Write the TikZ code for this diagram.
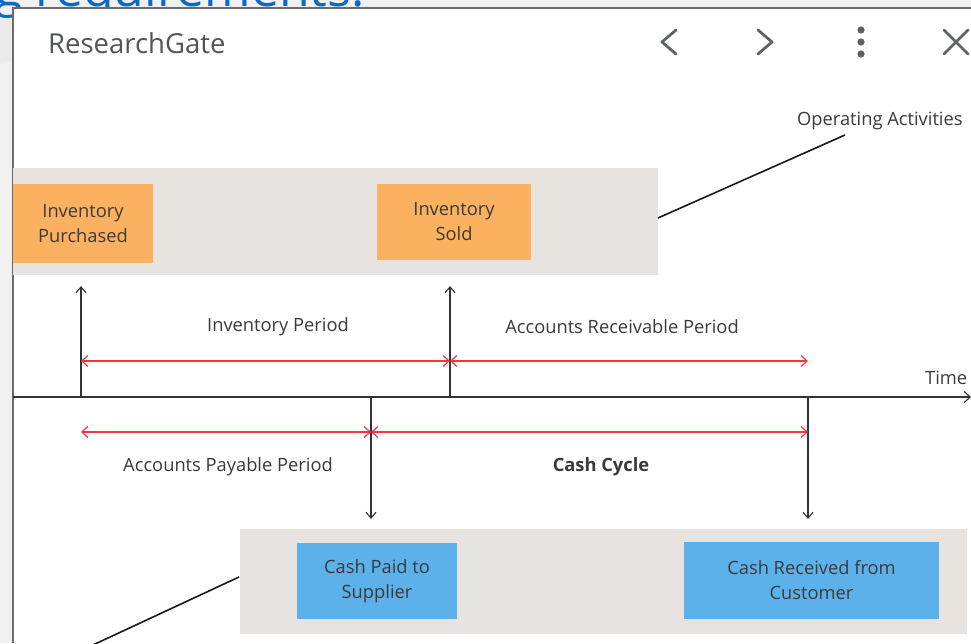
\documentclass[tikz,border=0pt]{standalone}
\usepackage{fontspec}
\setmainfont{Open Sans}
\usetikzlibrary{arrows.meta}
\definecolor{bandgray}{HTML}{E7E3E0}
\definecolor{orangebox}{HTML}{FBB160}
\definecolor{bluebox}{HTML}{5DB1EA}
\definecolor{redarrow}{HTML}{F2353F}
\definecolor{txt}{HTML}{3A3A3A}
\definecolor{linkblue}{HTML}{0B69C7}
\definecolor{icongray}{HTML}{5F6368}
\definecolor{pagegray}{HTML}{F1F1F1}
\definecolor{bordergray}{HTML}{6E6A66}
\tikzset{
  band/.style={fill=bandgray, draw=none},
  obox/.style={fill=orangebox, draw=none, inner sep=0pt, align=center, text=txt, font=\fontsize{18.3}{25}\selectfont},
  bbox/.style={fill=bluebox, draw=none, inner sep=0pt, align=center, text=txt, font=\fontsize{18.3}{25}\selectfont},
  lbl/.style={text=txt, inner sep=0pt, font=\fontsize{18.3}{22}\selectfont},
  blackarrow/.style={draw=black!80, line width=1.2pt, -{Straight Barb[length=6pt,width=10pt,line width=1.1pt]}},
  redarr/.style={draw=redarrow, line width=1.4pt, {Straight Barb[length=6pt,width=11pt,line width=1.2pt]}-{Straight Barb[length=6pt,width=11pt,line width=1.2pt]}},
  leader/.style={draw=black!90, line width=1.6pt},
  icon/.style={draw=icongray, line width=2.8pt, line cap=round, line join=round}
}
\begin{document}
\begin{tikzpicture}[x=1pt,y=-1pt]
\useasboundingbox (0,0) rectangle (971,643);
% browser background
\fill[pagegray] (0,0) rectangle (971,643);
\fill[black!8] (0,40) circle (24);
\node[anchor=base west, text=linkblue, inner sep=0pt, font=\fontsize{50}{54}\selectfont] (link) at (-5,6) {g requirements.};
\fill[white] (13,8) rectangle (971,643);
\draw[bordergray, line width=1.5pt] (13,643) -- (13,8) -- (971,8);
% header
\node[anchor=west, text=icongray!85!black, inner sep=0pt, font=\fontsize{27.5}{30}\selectfont] (rg) at (48,43) {ResearchGate};
\draw[icon] (676,30) -- (662,42) -- (676,54);
\draw[icon] (758,30) -- (772,42) -- (758,54);
\fill[icongray] (861,30) circle (3.6) (861,42) circle (3.6) (861,54) circle (3.6);
\draw[icon] (944,30) -- (968,54) (944,54) -- (968,30);
% bands
\node[band, minimum width=645pt, minimum height=107pt, inner sep=0pt] (topband) at (335.5,221.5) {};
\node[band, minimum width=727pt, minimum height=105pt, inner sep=0pt] (botband) at (603.5,581.5) {};
% boxes
\node[obox, minimum width=140pt, minimum height=79pt] (ip) at (83,223.5) {Inventory\\Purchased};
\node[obox, minimum width=154pt, minimum height=76pt] (is) at (454,222) {Inventory\\Sold};
\node[bbox, minimum width=160pt, minimum height=76pt] (cp) at (377,581) {Cash Paid to\\Supplier};
\node[bbox, minimum width=255pt, minimum height=77pt] (cr) at (811.5,580.5) {Cash Received from\\Customer};
% labels
\node[lbl, anchor=west] (opact) at (797,121) {Operating Activities};
\node[lbl] (invp) at (278,327) {Inventory Period};
\node[lbl] (arp) at (622,327) {Accounts Receivable Period};
\node[lbl] (app) at (228,467) {Accounts Payable Period};
\node[lbl, font=\fontsize{18.3}{22}\selectfont\bfseries] (cc) at (601,467) {Cash Cycle};
\node[lbl, anchor=west] (time) at (925,378) {Time};
% leader lines
\coordinate (opend) at (845,135);
\coordinate (topbandR) at (658,218);
\draw[leader] (topbandR) -- (opend);
\coordinate (botbandL) at (239,577);
\coordinate (botend) at (80,651);
\draw[leader] (botbandL) -- (botend);
% time axis
\coordinate (ax0) at (13,397);
\coordinate (ax1) at (971,397);
\draw[draw=black!80, line width=1.3pt, -{Straight Barb[length=6pt,width=11pt,line width=1.1pt]}] (ax0) -- (ax1);
% vertical markers
\coordinate (t1) at (81,397);  \coordinate (u1) at (81,286);
\coordinate (t2) at (450,397); \coordinate (u2) at (450,286);
\coordinate (t3) at (371,397); \coordinate (d3) at (371,519);
\coordinate (t4) at (808,397); \coordinate (d4) at (808,519);
\draw[blackarrow] (t1) -- (u1);
\draw[blackarrow] (t2) -- (u2);
\draw[blackarrow] (t3) -- (d3);
\draw[blackarrow] (t4) -- (d4);
% red period arrows
\coordinate (r1) at (81,361);  \coordinate (r2) at (450,361); \coordinate (r3) at (808,361);
\coordinate (s1) at (81,432);  \coordinate (s2) at (371,432); \coordinate (s3) at (808,432);
\draw[redarr] (r1) -- (r2);
\draw[redarr] (r2) -- (r3);
\draw[redarr] (s1) -- (s2);
\draw[redarr] (s2) -- (s3);
\end{tikzpicture}
\end{document}
